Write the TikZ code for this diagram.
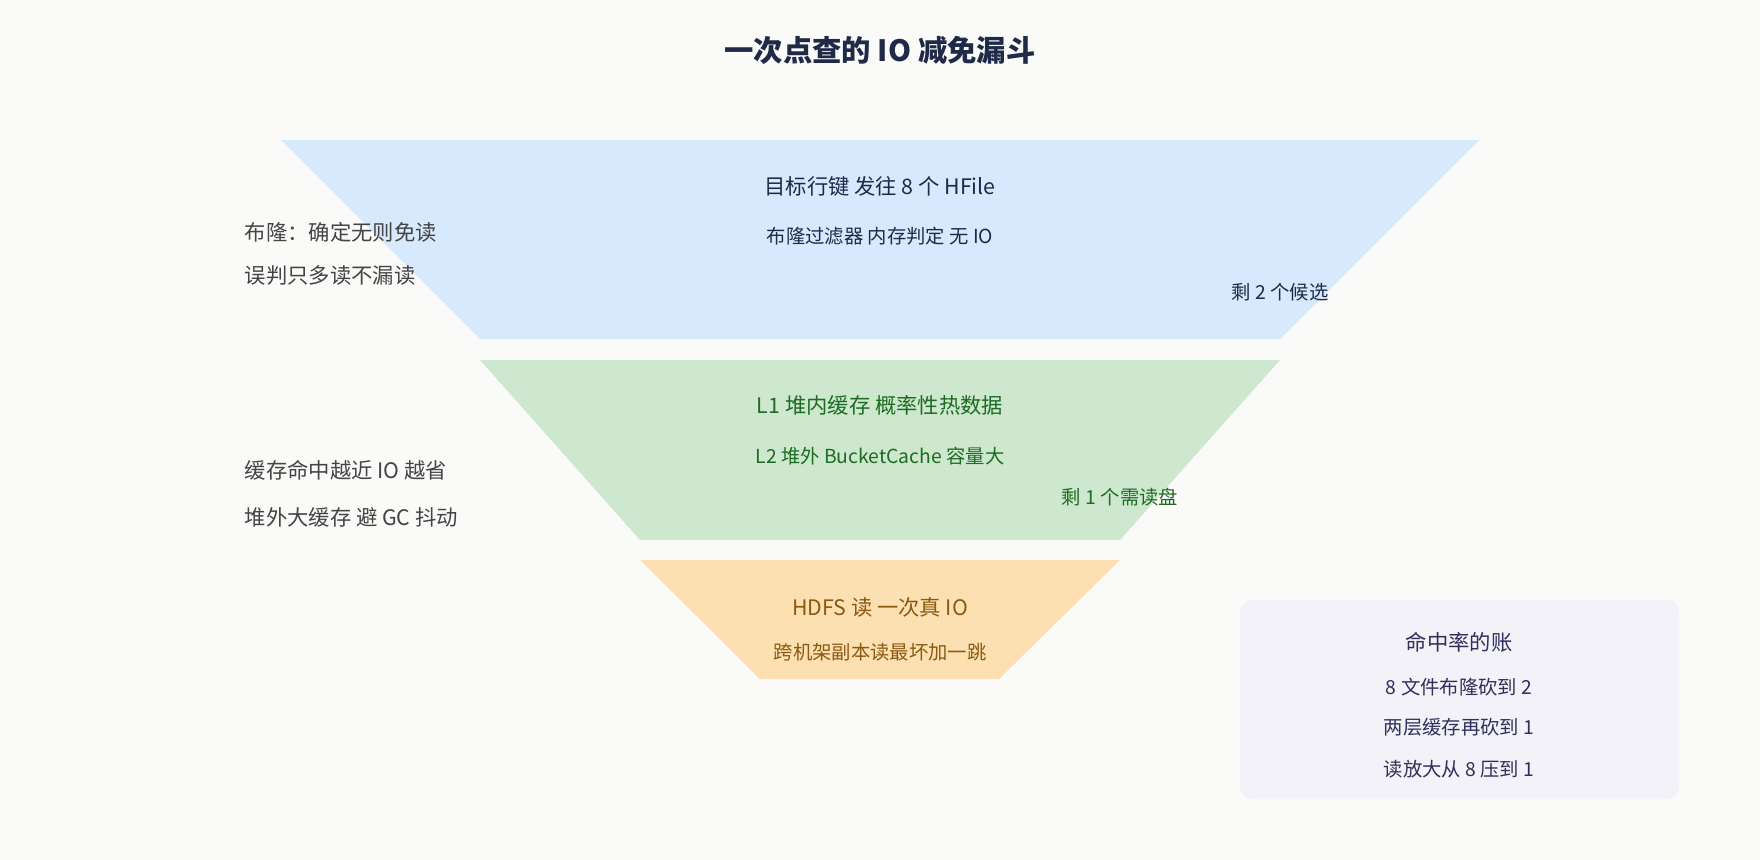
\documentclass[tikz,border=0pt]{standalone}
\usepackage{fontspec}
\setmainfont{Noto Sans CJK SC}
\usetikzlibrary{positioning}
\definecolor{bgc}{HTML}{FAFAF8}
\definecolor{bluef}{HTML}{D6E9FD}
\definecolor{greenf}{HTML}{CDE8CF}
\definecolor{orangef}{HTML}{FDE0B2}
\definecolor{navy}{HTML}{1F2A48}
\definecolor{leaf}{HTML}{1E6B22}
\definecolor{brownt}{HTML}{8A5A10}
\definecolor{notec}{HTML}{444444}
\definecolor{boxf}{HTML}{F3F2F8}
\definecolor{boxt}{HTML}{2F2F5A}
\tikzset{
  main/.style={font=\fontsize{16}{19}\selectfont},
  sub/.style={font=\fontsize{14.5}{17}\selectfont},
  note/.style={anchor=west,text=notec,font=\fontsize{16}{19}\selectfont},
}
\begin{document}
\begin{tikzpicture}[x=0.75pt,y=-0.75pt]
\fill[bgc] (0,0) rectangle (1760,860);
\useasboundingbox (0,0) rectangle (1760,860);

% title
\node[font=\fontsize{22}{26}\selectfont\bfseries,text=navy] (title) at (880,50) {一次点查的 IO 减免漏斗};

% funnel layers
\fill[bluef] (281,140) -- (1479,140) -- (1280,339) -- (480,339) -- cycle;
\fill[greenf] (480,360) -- (1280,360) -- (1120,540) -- (640,540) -- cycle;
\fill[orangef] (640,560) -- (1120,560) -- (999,679) -- (760,679) -- cycle;

\node[main,text=navy] (bloom) at (880,186) {目标行键 发往 8 个 HFile};
\node[sub,text=navy] (bloomsub) at (880,236) {布隆过滤器 内存判定 无 IO};
\node[sub,text=navy] (left2) at (1280,292) {剩 2 个候选};

\node[main,text=leaf] (cache) at (880,405) {L1 堆内缓存 概率性热数据};
\node[sub,text=leaf] (cachesub) at (880,456) {L2 堆外 BucketCache 容量大};
\node[sub,text=leaf] (left1) at (1120,497) {剩 1 个需读盘};

\node[main,text=brownt] (hdfs) at (880,607) {HDFS 读 一次真 IO};
\node[sub,text=brownt] (hdfssub) at (880,652) {跨机架副本读最坏加一跳};

% side notes
\node[note] (n1) at (240,232) {布隆：确定无则免读};
\node[note] (n2) at (240,275) {误判只多读不漏读};
\node[note] (n3) at (240,470) {缓存命中越近 IO 越省};
\node[note] (n4) at (240,517) {堆外大缓存 避 GC 抖动};

% tally box
\fill[boxf,rounded corners=9] (1240,600) rectangle (1679,799);
\node[main,text=boxt] (tally) at (1459,642) {命中率的账};
\node[sub,text=boxt] (t1) at (1459,687) {8 文件布隆砍到 2};
\node[sub,text=boxt] (t2) at (1459,727) {两层缓存再砍到 1};
\node[sub,text=boxt] (t3) at (1459,769) {读放大从 8 压到 1};
\end{tikzpicture}
\end{document}
